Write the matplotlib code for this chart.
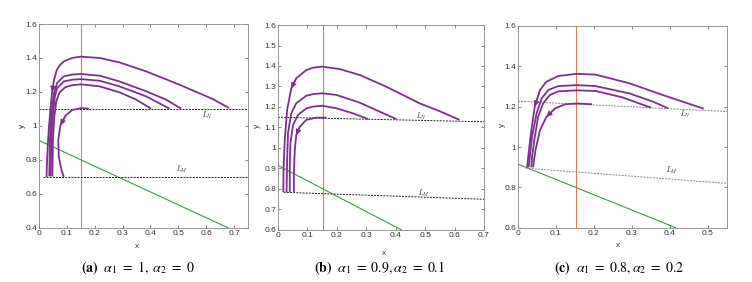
import matplotlib
matplotlib.use("Agg")
import matplotlib.pyplot as plt
from matplotlib.ticker import FuncFormatter, MultipleLocator

plt.rcParams['font.family'] = ['Liberation Sans Narrow', 'Liberation Sans', 'DejaVu Sans']
plt.rcParams['mathtext.fontset'] = 'stix'

# ---------------- data ----------------
captions = [r'$\mathbf{(a)}\ \ \alpha_1\ =\ 1,\ \alpha_2\ =\ 0$',
            r'$\mathbf{(b)}\ \ \alpha_1\ =\ 0.9,\alpha_2\ =\ 0.1$',
            r'$\mathbf{(c)}\ \ \alpha_1\ =\ 0.8,\alpha_2\ =\ 0.2$']

xlims = [(0, 0.75), (0, 0.7), (0, 0.55)]
ylims = [(0.4, 1.6), (0.6, 1.6), (0.6, 1.6)]
ysteps = [0.2, 0.1, 0.2]
xsteps = [0.1, 0.1, 0.1]

vline_x = 0.152

green_x = [[0, 0.68], [0, 0.42], [0, 0.415]]
green_y = [[0.915, 0.40], [0.915, 0.60], [0.915, 0.60]]

LN_x = [[0, 0.75], [0, 0.7], [0, 0.55]]
LN_y = [[1.10, 1.10], [1.150, 1.128], [1.227, 1.176]]
LM_x = [[0.015, 0.75], [0.02, 0.7], [0.02, 0.55]]
LM_y = [[0.70, 0.70], [0.784, 0.750], [0.895, 0.820]]

LN_label = [(0.585, 1.06), (0.47, 1.156), (0.425, 1.162)]
LM_label = [(0.49, 0.743), (0.476, 0.779), (0.39, 0.886)]

# trajectories: panel (a)
a1_x = [0.682, 0.623, 0.504, 0.385, 0.289, 0.218, 0.15, 0.118, 0.089, 0.073, 0.063, 0.054, 0.047, 0.042, 0.036, 0.032, 0.029, 0.027]
a1_y = [1.106, 1.159, 1.243, 1.321, 1.374, 1.400, 1.408, 1.400, 1.380, 1.355, 1.325, 1.272, 1.200, 1.115, 1.000, 0.900, 0.800, 0.700]
a2_x = [0.510, 0.456, 0.385, 0.289, 0.218, 0.15, 0.118, 0.089, 0.065, 0.054, 0.045, 0.039, 0.037]
a2_y = [1.102, 1.155, 1.204, 1.262, 1.296, 1.306, 1.302, 1.292, 1.253, 1.194, 1.076, 0.919, 0.704]
a3_x = [0.468, 0.385, 0.289, 0.218, 0.15, 0.118, 0.089, 0.065, 0.057, 0.050, 0.044, 0.042]
a3_y = [1.102, 1.174, 1.233, 1.266, 1.276, 1.272, 1.262, 1.223, 1.174, 1.076, 0.919, 0.704]
a4_x = [0.402, 0.349, 0.289, 0.218, 0.15, 0.120, 0.095, 0.074, 0.062, 0.055, 0.050, 0.048]
a4_y = [1.102, 1.155, 1.198, 1.233, 1.245, 1.240, 1.229, 1.198, 1.145, 1.056, 0.919, 0.704]
a5_x = [0.179, 0.151, 0.119, 0.095, 0.077, 0.069, 0.071, 0.081, 0.089]
a5_y = [1.102, 1.105, 1.094, 1.060, 1.005, 0.917, 0.820, 0.740, 0.700]

# panel (b)
b1_x = [0.617, 0.549, 0.481, 0.368, 0.278, 0.21, 0.15, 0.12, 0.096, 0.062, 0.045, 0.031, 0.023, 0.019, 0.018]
b1_y = [1.137, 1.180, 1.218, 1.299, 1.356, 1.385, 1.397, 1.392, 1.380, 1.340, 1.291, 1.185, 1.039, 0.909, 0.784]
b2_x = [0.402, 0.346, 0.278, 0.198, 0.15, 0.12, 0.096, 0.062, 0.045, 0.034, 0.031, 0.029]
b2_y = [1.141, 1.177, 1.221, 1.259, 1.267, 1.263, 1.255, 1.218, 1.169, 1.072, 0.941, 0.784]
b3_x = [0.306, 0.255, 0.198, 0.15, 0.12, 0.096, 0.068, 0.051, 0.042, 0.040, 0.040]
b3_y = [1.141, 1.169, 1.194, 1.206, 1.202, 1.193, 1.161, 1.112, 1.023, 0.909, 0.784]
b4_x = [0.164, 0.130, 0.096, 0.074, 0.062, 0.057, 0.054, 0.054]
b4_y = [1.148, 1.148, 1.137, 1.104, 1.063, 0.990, 0.876, 0.784]

# panel (c)
c1_x = [0.489, 0.452, 0.381, 0.293, 0.204, 0.155, 0.106, 0.075, 0.058, 0.044, 0.034, 0.027, 0.024]
c1_y = [1.190, 1.213, 1.258, 1.316, 1.359, 1.363, 1.352, 1.324, 1.283, 1.200, 1.068, 0.952, 0.899]
c2_x = [0.395, 0.355, 0.293, 0.204, 0.155, 0.106, 0.080, 0.062, 0.049, 0.037, 0.031, 0.028]
c2_y = [1.192, 1.225, 1.266, 1.302, 1.307, 1.302, 1.283, 1.241, 1.167, 1.051, 0.952, 0.899]
c3_x = [0.350, 0.275, 0.204, 0.155, 0.106, 0.084, 0.066, 0.053, 0.043, 0.037, 0.035]
c3_y = [1.195, 1.246, 1.278, 1.281, 1.276, 1.258, 1.216, 1.150, 1.035, 0.952, 0.899]
c4_x = [0.195, 0.155, 0.124, 0.098, 0.075, 0.058, 0.046, 0.041, 0.040]
c4_y = [1.212, 1.216, 1.212, 1.192, 1.150, 1.084, 0.985, 0.919, 0.899]

trajs = [
    [(a1_x, a1_y), (a2_x, a2_y), (a3_x, a3_y), (a4_x, a4_y), (a5_x, a5_y)],
    [(b1_x, b1_y), (b2_x, b2_y), (b3_x, b3_y), (b4_x, b4_y)],
    [(c1_x, c1_y), (c2_x, c2_y), (c3_x, c3_y), (c4_x, c4_y)],
]
# (curve index, point index) where an arrowhead ends
arrows = [[(0, 12), (4, 4)], [(0, 10), (3, 4)], [(0, 9), (3, 4)]]

# ---------------- layout ----------------
W, H = 752, 282
ax_px = [(39, 24, 248, 228), (278, 25, 484, 230), (518, 26, 727, 227.7)]
xlabel_pos = [(0.467, -0.092), (0.515, -0.115), (0.478, -0.089)]
ylabel_pos = [(-0.081, 0.5), (-0.098, 0.507), (-0.072, 0.509)]
caption_x = [0.1835, 0.505, 0.824]

purple = '#7e2f8e'
orange = '#e57a52'
green = '#3a9e3a'

fig = plt.figure(figsize=(W / 100, H / 100), dpi=100)
fmt = FuncFormatter(lambda v, p: ('%g' % round(v, 3)))

for i in range(3):
    l, t, r, b = ax_px[i]
    ax = fig.add_axes([l / W, 1 - b / H, (r - l) / W, (b - t) / H])
    ax.set_xlim(*xlims[i])
    ax.set_ylim(*ylims[i])
    ax.xaxis.set_major_locator(MultipleLocator(xsteps[i]))
    ax.yaxis.set_major_locator(MultipleLocator(ysteps[i]))
    ax.xaxis.set_major_formatter(fmt)
    ax.yaxis.set_major_formatter(fmt)
    ax.tick_params(direction='in', length=2.5, width=0.5, labelsize=6,
                   top=True, right=True, colors='#555555', labelcolor='#333333', pad=1.5)
    for s in ax.spines.values():
        s.set_color('#888888')
        s.set_linewidth(0.6)

    ax.axvline(vline_x, color=orange, lw=0.8, zorder=2)
    ax.plot(green_x[i], green_y[i], color=green, lw=0.8, zorder=2)
    dash_col = '#222222' if i < 2 else '#888888'
    ax.plot(LN_x[i], LN_y[i], color=dash_col, lw=0.7, dashes=(2, 1.2), zorder=2)
    ax.plot(LM_x[i], LM_y[i], color=dash_col, lw=0.7, dashes=(2, 1.2), zorder=2)
    ax.text(*LN_label[i], r'$L_N$', fontsize=6, color='#555555', ha='left', va='center')
    ax.text(*LM_label[i], r'$L_M$', fontsize=6, color='#555555', ha='left', va='center')

    for (tx, ty) in trajs[i]:
        ax.plot(tx, ty, color=purple, lw=1.3, zorder=3, solid_capstyle='butt',
                solid_joinstyle='round')
    for (ci, pi) in arrows[i]:
        tx, ty = trajs[i][ci]
        ax.annotate('', xy=(tx[pi], ty[pi]), xytext=(tx[pi - 1], ty[pi - 1]),
                    arrowprops=dict(arrowstyle='-|>', color=purple, lw=0.8,
                                    mutation_scale=8, shrinkA=0, shrinkB=0), zorder=4)

    ax.set_xlabel('x', fontsize=6, color='#333333')
    ax.set_ylabel('y', fontsize=6, color='#333333')
    ax.xaxis.set_label_coords(*xlabel_pos[i])
    ax.yaxis.set_label_coords(*ylabel_pos[i])
    ax.xaxis.label.set_va('center')
    ax.yaxis.label.set_va('center')

    fig.text(caption_x[i], 1 - 268 / H, captions[i], ha='center', va='center',
             fontsize=10, family='Liberation Serif')

fig.savefig('out.png', dpi=100)
